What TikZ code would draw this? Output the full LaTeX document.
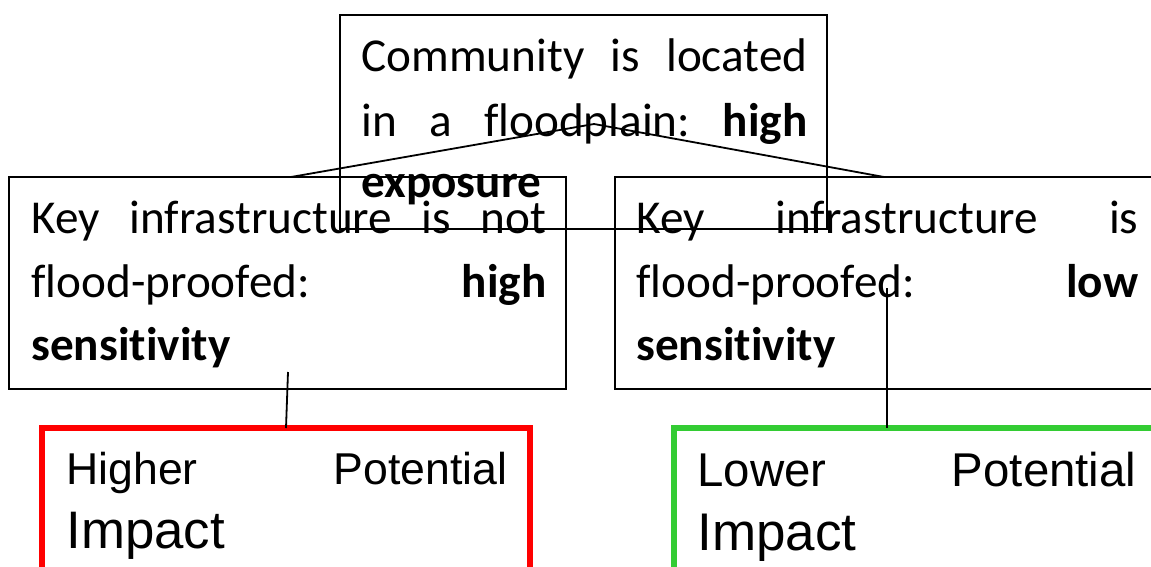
\documentclass[tikz,border=0pt]{standalone}
\usepackage{fontspec}
\setmainfont{Carlito}[Ligatures={NoCommon,NoRare}]
\newfontfamily\arialf{Liberation Sans}
\definecolor{hiRed}{RGB}{255,0,0}
\definecolor{loGreen}{RGB}{51,204,51}
% one justified line of a given width
\newcommand{\jline}[2]{\hbox to #1{#2}}
\begin{document}
\begin{tikzpicture}[x=0.5pt,y=-0.5pt,
  box/.style={draw=black, line width=1pt, rectangle, anchor=north west, inner sep=0pt, outer sep=0pt},
  impactbox/.style={draw=#1, line width=2.6pt, rectangle, anchor=north west, inner sep=0pt, outer sep=0pt},
  conn/.style={draw=black, line width=0.9pt},
  cal/.style={anchor=base west, inner sep=0pt, font=\fontsize{23.6}{32}\selectfont},
  ari/.style={anchor=base west, inner sep=0pt, font=\arialf\fontsize{#1}{32}\selectfont}
]
\useasboundingbox (0,0) rectangle (1151,567);

% boxes
\node[box, minimum width=243.5pt, minimum height=107pt] (top) at (340,15) {};
\node[box, minimum width=278.5pt, minimum height=106pt] (lb) at (9,177) {};
\node[box, minimum width=272.5pt, minimum height=106pt] (rb) at (615,177) {};
\node[impactbox=hiRed, minimum width=244pt, minimum height=90pt] (red) at (42,428) {};
\node[impactbox=loGreen, minimum width=244pt, minimum height=90pt] (grn) at (674,428) {};

% exposure box text
\node[cal] (t1) at (361,72) {\jline{223pt}{Community\hfill is\hfill located}};
\node[cal] (t2) at (361,136) {\jline{223pt}{in\hfill a\hfill floodplain:\hfill \textbf{high}}};
\node[cal] (t3) at (361,198) {\textbf{exposure}};

% sensitivity box texts
\node[cal] (l1) at (31,233) {\jline{257.5pt}{Key\hfill infrastructure\hfill is\hfill not}};
\node[cal] (l2) at (31,297) {\jline{257.5pt}{flood-proofed:\hfill \textbf{high}}};
\node[cal] (l3) at (31,360) {\textbf{sensitivity}};

\node[cal] (r1) at (636,233) {\jline{251pt}{Key\hfill infrastructure\hfill is}};
\node[cal] (r2) at (636,297) {\jline{251pt}{flood-proofed:\hfill \textbf{low}}};
\node[cal] (r3) at (636,360) {\textbf{sensitivity}};

% impact box texts
\node[ari=22.3] (h1) at (66,484) {\jline{220.5pt}{Higher\hfill Potential}};
\node[ari=26.4] (h2) at (66,548) {Impact};
\node[ari=23.7] (g1) at (697,486) {\jline{219.5pt}{Lower\hfill Potential}};
\node[ari=26.5] (g2) at (697,550) {Impact};

% connectors
\coordinate (peak) at (594,124);
\draw[conn] (peak) -- ([xshift=141pt]lb.north west);
\draw[conn] (peak) -- ([xshift=134.5pt]rb.north west);
\draw[conn] ([xshift=139.5pt,yshift=8.5pt]lb.south west) -- ([xshift=122pt]red.north west);
\draw[conn] ([xshift=136pt,yshift=50.5pt]rb.south west) -- ([xshift=106.5pt]grn.north west);
\end{tikzpicture}
\end{document}
